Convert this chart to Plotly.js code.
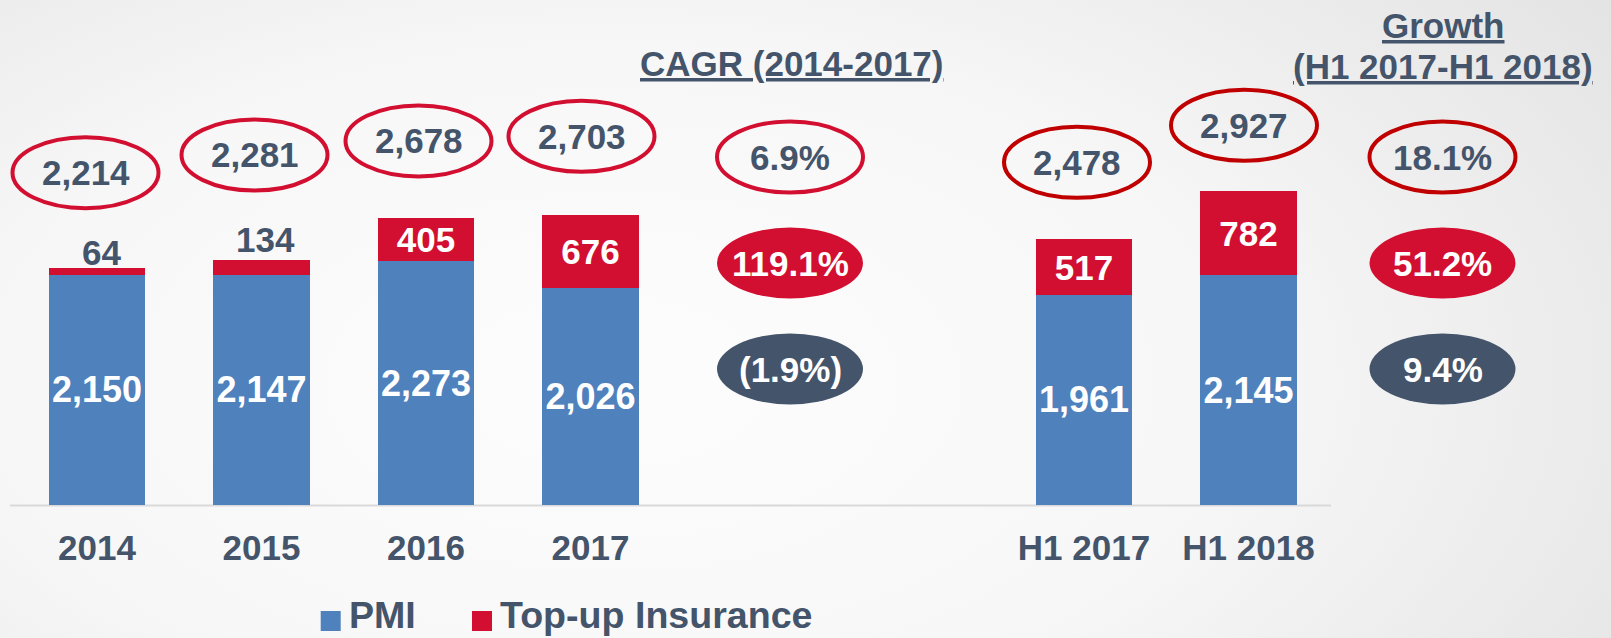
<!DOCTYPE html>
<html><head><meta charset="utf-8">
<script src="https://cdn.plot.ly/plotly-3.0.1.min.js"></script>
<style>
html,body{margin:0;padding:0;width:1611px;height:638px;overflow:hidden;}
body{background: radial-gradient(ellipse 95% 130% at 38% 60%, #fdfdfd 0%, #f7f7f7 40%, #e6e6e6 75%, #d9d9d9 100%);}
#chart{width:1611px;height:638px;}
</style></head><body><div id="chart"></div>
<script>
// ---- data ----
const categories = ['2014', '2015', '2016', '2017', 'H1 2017', 'H1 2018'];
const pmi = [2150, 2147, 2273, 2026, 1961, 2145];
const topup = [64, 134, 405, 676, 517, 782];
const totals = [2214, 2281, 2678, 2703, 2478, 2927];
const seriesNames = ['PMI', 'Top-up Insurance'];
const cagrTitle = 'CAGR (2014-2017)';
const cagrValues = ['6.9%', '119.1%', '(1.9%)'];
const growthTitle = ['Growth', '(H1 2017-H1 2018)'];
const growthValues = ['18.1%', '51.2%', '9.4%'];

// ---- layout constants ----
const W = 1611, H = 638, PLOT_H = 505;
const FONT = 'Liberation Sans, Arial, sans-serif';
const DARK = '#44546a', BLUE = '#4f81bd', RED = '#d20f30', DARKRED = '#c00000';
const gapAfter = 4, gapSlots = 2;
const slots = categories.map((c, i) => i + (i >= gapAfter ? gapSlots : 0));
const totalOffsets = [[-11.5, 95], [-7, 105.5], [-7.5, 77], [-9, 79], [-7, 77], [-4.5, 66]];
const totalRing = [RED, RED, RED, RED, DARKRED, DARKRED];
const smallLabelShift = [15, 21];
const EW = 146, EH = 71;
const SMALL = 200; // segments below this value get their label above the bar
const pxX = px => px / W;
const pxY = py => (PLOT_H - py) / PLOT_H;
const fmt = v => v.toLocaleString('en-US');

const traces = [
  {
    type: 'bar', name: seriesNames[0], x: slots, y: pmi, width: 0.584,
    marker: {color: BLUE}, text: pmi.map(fmt), textposition: 'inside', textangle: 0,
    insidetextanchor: 'middle', constraintext: 'none',
    textfont: {family: FONT, size: 36, color: '#ffffff', weight: 'bold'},
    hoverinfo: 'skip'
  },
  {
    type: 'bar', name: seriesNames[1], x: slots, y: topup, width: 0.584,
    marker: {color: RED}, text: topup.map(v => v < SMALL ? '' : fmt(v)),
    textposition: 'inside', textangle: 0,
    insidetextanchor: 'middle', constraintext: 'none',
    textfont: {family: FONT, size: 35, weight: 'bold', color: '#ffffff'},
    hoverinfo: 'skip'
  }
];

const shapes = [];
const annotations = [];

// axis line
shapes.push({type: 'line', xref: 'paper', yref: 'paper', x0: pxX(10), x1: pxX(1331),
  y0: -0.6 / PLOT_H, y1: -0.6 / PLOT_H, line: {color: '#d9d9d9', width: 2}, layer: 'below'});

// labels of thin top-up segments, above the bar
let si = 0;
topup.forEach((v, i) => {
  if (v >= SMALL) return;
  annotations.push({x: slots[i], y: pmi[i] + v, xref: 'x', yref: 'y', yshift: smallLabelShift[si++] || 17, xshift: 4,
    text: fmt(v), showarrow: false, xanchor: 'center', yanchor: 'middle',
    font: {family: FONT, size: 35, color: DARK, weight: 'bold'}});
});

// total ellipses
totals.forEach((t, i) => {
  const [dx, dy] = totalOffsets[i];
  shapes.push({type: 'circle', xref: 'x', yref: 'y', xsizemode: 'pixel', ysizemode: 'pixel',
    xanchor: slots[i], yanchor: t, x0: dx - EW / 2, x1: dx + EW / 2, y0: dy - EH / 2, y1: dy + EH / 2,
    line: {color: totalRing[i], width: 4}});
  annotations.push({x: slots[i], y: t, xref: 'x', yref: 'y', xshift: dx, yshift: dy,
    text: fmt(t), showarrow: false, xanchor: 'center', yanchor: 'middle',
    font: {family: FONT, size: 35, color: DARK, weight: 'bold'}});
});

// growth columns
function column(cx, values, ring) {
  const rows = [157, 263, 369];
  const styles = [
    {fill: 'rgba(0,0,0,0)', line: ring, text: DARK},
    {fill: RED, line: RED, text: '#ffffff'},
    {fill: DARK, line: DARK, text: '#ffffff'}
  ];
  values.forEach((v, k) => {
    const s = styles[k];
    shapes.push({type: 'circle', xref: 'paper', yref: 'paper', xsizemode: 'pixel', ysizemode: 'pixel',
      xanchor: pxX(cx), yanchor: pxY(rows[k]), x0: -EW / 2, x1: EW / 2, y0: -EH / 2, y1: EH / 2,
      fillcolor: s.fill, line: {color: k === 0 ? s.line : 'rgba(0,0,0,0)', width: k === 0 ? 4 : 0}});
    annotations.push({x: pxX(cx), y: pxY(rows[k]), xref: 'paper', yref: 'paper', text: v,
      showarrow: false, xanchor: 'center', yanchor: 'middle',
      font: {family: FONT, size: 35, color: s.text, weight: 'bold'}});
  });
}
column(790, cagrValues, RED);
column(1442.5, growthValues, DARKRED);

// headers
annotations.push({x: pxX(791), y: pxY(63.3), xref: 'paper', yref: 'paper', text: '<u>' + cagrTitle + '</u>',
  showarrow: false, xanchor: 'center', yanchor: 'middle', font: {family: FONT, size: 35, color: DARK, weight: 'bold'}});
[25, 66.7].forEach((py, k) => {
  annotations.push({x: pxX(1442.5), y: pxY(py), xref: 'paper', yref: 'paper', text: '<u>' + growthTitle[k] + '</u>',
    showarrow: false, xanchor: 'center', yanchor: 'middle', font: {family: FONT, size: 35, color: DARK, weight: 'bold'}});
});

// legend (manual, larger swatches)
const legendItems = [{sx: 320.7, tx: 346.5, color: BLUE}, {sx: 472, tx: 498, color: RED}];
legendItems.forEach((it, k) => {
  shapes.push({type: 'rect', xref: 'paper', yref: 'paper', x0: pxX(it.sx), x1: pxX(it.sx + 20),
    y0: pxY(611), y1: pxY(631), fillcolor: it.color, line: {width: 0}});
  annotations.push({x: pxX(it.tx), y: pxY(637.5), xref: 'paper', yref: 'paper', text: seriesNames[k],
    showarrow: false, xanchor: 'left', yanchor: 'bottom', font: {family: FONT, size: 37.6, color: DARK, weight: 'bold'}});
});

const x0 = -97 / 164.5, x1 = (W - 97) / 164.5;
const layout = {
  width: W, height: H,
  margin: {l: 0, r: 0, t: 0, b: H - PLOT_H, pad: 0},
  paper_bgcolor: 'rgba(0,0,0,0)', plot_bgcolor: 'rgba(0,0,0,0)',
  barmode: 'stack', showlegend: false,
  xaxis: {range: [x0, x1], tickvals: slots, ticktext: categories, ticks: '', showgrid: false,
    zeroline: false, showline: false, ticklabelstandoff: 19,
    tickfont: {family: FONT, size: 35, color: DARK, weight: 'bold'}},
  yaxis: {range: [0, PLOT_H / 0.1072], visible: false, showgrid: false, zeroline: false},
  shapes: shapes, annotations: annotations,
  font: {family: FONT}
};
Plotly.newPlot('chart', traces, layout, {staticPlot: true, displayModeBar: false});
</script></body></html>
